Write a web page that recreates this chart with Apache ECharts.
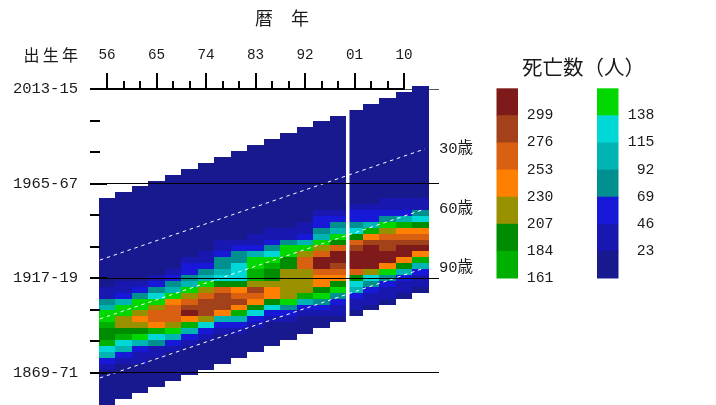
<!DOCTYPE html>
<html><head><meta charset="utf-8">
<style>html,body{margin:0;padding:0;background:#fff}#c{width:716px;height:405px}</style>
<script src="https://cdn.jsdelivr.net/npm/echarts@6/dist/echarts.min.js"></script>
</head><body><div id="c"></div>
<script>
const periods = ['56','59','62','65','68','71','74','77','80','83','86','89','92','95','98','01','04','07','10','13'];
const col56 = [12,12,12,12,12,12,12,12,12,12,12,12,12,12,12,35,35,80,104,150,150,172,195,195,172,126,104,58,35,12,12,12,12,12,12];
const col59 = [12,12,12,12,12,12,12,12,12,12,12,12,12,12,12,35,35,58,104,150,150,218,218,195,172,126,104,58,35,12,12,12,12,12,12];
const col62 = [12,12,12,12,12,12,12,12,12,12,12,12,12,12,12,12,35,58,80,150,150,218,242,218,195,150,104,58,35,35,12,12,12,12,12];
const col65 = [12,12,12,12,12,12,12,12,12,12,12,12,12,12,12,12,35,58,80,126,150,218,264,264,242,172,126,80,35,35,12,12,12,12,12];
const col68 = [12,12,12,12,12,12,12,12,12,12,12,12,12,12,12,12,35,58,80,104,150,242,264,264,264,218,150,104,58,35,12,12,12,12,12];
const col71 = [12,12,12,12,12,12,12,12,12,12,12,12,12,12,12,35,58,58,80,104,150,218,264,288,310,242,172,104,58,35,12,12,12,12,12];
const col74 = [12,12,12,12,12,12,12,12,12,12,12,12,12,12,12,35,35,58,80,104,150,218,264,288,288,288,218,126,58,35,12,12,12,12,12];
const col77 = [12,12,12,12,12,12,12,12,12,12,12,12,12,12,35,35,58,80,80,104,126,195,264,288,288,288,242,104,58,35,12,12,12,12,12];
const col80 = [12,12,12,12,12,12,12,12,12,12,12,12,12,12,12,35,58,80,80,126,126,126,195,242,264,288,242,172,104,58,35,12,12,12,12];
const col83 = [12,12,12,12,12,12,12,12,12,12,12,12,12,12,12,35,35,58,104,150,150,172,172,218,288,264,242,195,126,58,35,12,12,12,12];
const col86 = [12,12,12,12,12,12,12,12,12,12,12,12,12,12,12,35,35,58,80,126,150,172,195,195,218,242,242,195,126,58,35,12,12,12,12];
const col89 = [12,12,12,12,12,12,12,12,12,12,12,12,12,12,12,12,35,35,80,150,150,195,195,218,218,218,218,218,150,80,58,35,12,12,12];
const col92 = [12,12,12,12,12,12,12,12,12,12,12,12,12,12,12,12,35,35,58,104,150,218,264,264,218,218,218,218,172,104,58,35,12,12,12];
const col95 = [12,12,12,12,12,12,12,12,12,12,12,12,12,12,12,35,58,58,80,104,150,218,264,310,310,264,242,242,195,150,80,58,35,12,12];
const col98 = [12,12,12,12,12,12,12,12,12,12,12,12,12,12,12,12,35,58,80,104,150,195,264,310,310,288,264,242,195,150,80,58,35,35,12];
const col01 = [12,12,12,12,12,12,12,12,12,12,12,12,12,12,12,12,35,58,58,80,126,195,264,288,310,310,310,264,195,126,104,58,35,35,12];
const col04 = [12,12,12,12,12,12,12,12,12,12,12,12,12,12,12,12,12,35,58,58,104,172,242,288,310,310,310,310,218,126,80,58,35,35,12];
const col07 = [12,12,12,12,12,12,12,12,12,12,12,12,12,12,12,12,12,35,35,58,80,150,218,264,288,288,310,310,242,150,80,58,35,35,12];
const col10 = [12,12,12,12,12,12,12,12,12,12,12,12,12,12,12,12,12,12,35,35,58,104,172,242,264,288,310,310,242,195,104,58,35,35,12];
const col13 = [12,12,12,12,12,12,12,12,12,12,12,12,12,12,12,12,12,12,12,35,35,80,126,195,242,264,288,310,242,172,104,58,35,35,12];
const columns = [col56,col59,col62,col65,col68,col71,col74,col77,col80,col83,col86,col89,col92,col95,col98,col01,col04,col07,col10,col13];

const thresholds = [23,46,69,92,115,138,161,184,207,230,253,276,299];
const colors = ['#18188f','#1818b0','#1818d8','#009090','#00b4b4','#00d8d8','#00d800','#00b000','#008c00','#999000','#ff8000','#d96010','#a3421a','#7f1a1a'];

const birthTicks = [2014,1998,1982,1966,1950,1934,1918,1902,1886,1870];
const birthMajor = [1966,1918,1870];
const birthLabels = {2014:'2013-15',1966:'1965-67',1918:'1917-19',1870:'1869-71'};
const yearMajor = [1956,1965,1974,1983,1992,2001,2010];
const yearMinor = [1956,1959,1962,1965,1968,1971,1974,1977,1980,1983,1986,1989,1992,1995,1998,2001,2004,2007,2010];

const lineYears = [1954.7,2013.8];
const age30 = [1927.1,1983.5];
const age60 = [1897.2,1953.0];
const age90 = [1867.2,1923.1];
const censusBreakYear = 1999.77;
const breakSpan = [2014,1855];

const mono = '"Liberation Mono","DejaVu Sans Mono",monospace';
const cjk = '"Noto Sans CJK JP",sans-serif';
const textCol = '#1a1a1a';

const rowCount = 54;
const rowNames = Array.from({length: rowCount}, (_, i) => String(i));
const cells = [];
columns.forEach((col, c) => col.forEach((v, k) => cells.push([c, 19 - c + k, v])));

const pieces = colors.map((color, i) => {
  const p = {color};
  if (i > 0) p.gte = thresholds[i - 1];
  if (i < thresholds.length) p.lt = thresholds[i];
  return p;
});

function renderCell(params, api) {
  const c = api.coord([api.value(0), api.value(1)]);
  const s = api.size([1, 1]);
  const x0 = Math.round(c[0] - s[0] / 2), x1 = Math.round(c[0] + s[0] / 2);
  const y0 = Math.round(c[1] - s[1] / 2), y1 = Math.round(c[1] + s[1] / 2);
  return {type: 'rect', shape: {x: x0, y: y0, width: x1 - x0, height: y1 - y0}, style: {fill: api.visual('color')}};
}

function ageLine(name, ys) {
  return {
    type: 'line', xAxisIndex: 1, yAxisIndex: 1, z: 3, silent: true, symbol: 'none',
    data: lineYears.map((x, i) => [x, ys[i]]),
    lineStyle: {color: '#fff', width: 1, type: [3.5, 3.8]},
    endLabel: {show: true, formatter: name, distance: 14, color: textCol, fontSize: 15.5, fontFamily: mono + ',' + cjk}
  };
}

const chart = echarts.init(document.getElementById('c'), null, {renderer: 'canvas'});

const legendW = 21.5, cellH = 27.1;
const graphics = [];
function legendCell(x, y, color) {
  graphics.push({type: 'rect', shape: {x, y, width: legendW, height: cellH + 0.5}, style: {fill: color}});
}
function legendText(x, y, text) {
  graphics.push({type: 'text', x, y, style: {text, align: 'right', verticalAlign: 'middle', font: '14.8px ' + mono, fill: textCol}});
}
for (let i = 0; i < 7; i++) {
  legendCell(496.5, 88.3 + i * cellH, colors[13 - i]);
  legendText(553.5, 88.3 + (i + 1) * cellH, String(thresholds[12 - i]));
  legendCell(597, 88.3 + i * cellH, colors[6 - i]);
  if (i < 6) legendText(654.5, 88.3 + (i + 1) * cellH, String(thresholds[5 - i]));
}
function title(x, y, text, size, align) {
  graphics.push({type: 'text', x, y, style: {text, align: align || 'left', verticalAlign: 'middle', font: size + 'px ' + cjk, fill: textCol}});
}
title(255, 18, '暦　年', 18);
title(78, 55, '出\u2009生\u2009年', 16, 'right');
title(522, 67, '死亡数（人）', 20.5);

const topRect = {left: 107, top: 89, width: 297, height: 316};
chart.setOption({
  animation: false,
  backgroundColor: '#fff',
  grid: [
    {left: 98.5, top: 86, width: 330.5, height: 318.94},
    {left: 90, top: 86, width: 349, height: 318.94},
    topRect,
    topRect
  ],
  visualMap: {type: 'piecewise', show: false, seriesIndex: 0, dimension: 2, pieces},
  xAxis: [
    {type: 'category', gridIndex: 0, data: periods, show: false},
    {type: 'value', gridIndex: 1, min: 1952.909, max: 2016.364, show: false},
    {type: 'value', gridIndex: 2, min: 1956, max: 2010, position: 'top', z: 10,
      axisLine: {show: true, onZero: false, lineStyle: {color: '#000', width: 2}},
      axisTick: {show: true, length: 16, lineStyle: {color: '#000', width: 2}, customValues: yearMajor},
      axisLabel: {show: true, margin: 27, customValues: yearMajor, formatter: v => String(v).slice(2),
        color: textCol, fontSize: 14.3, fontFamily: mono, hideOverlap: false},
      splitLine: {show: false}},
    {type: 'value', gridIndex: 3, min: 1956, max: 2010, position: 'top', z: 10,
      axisLine: {show: false, onZero: false},
      axisTick: {show: true, length: 8, lineStyle: {color: '#000', width: 2}, customValues: yearMinor},
      axisLabel: {show: false}, splitLine: {show: false}}
  ],
  yAxis: [
    {type: 'category', gridIndex: 0, data: rowNames, inverse: true, show: false},
    {type: 'value', gridIndex: 1, min: 1853.5, max: 2015.5, position: 'left', z: 10,
      axisLine: {show: false},
      axisTick: {show: true, inside: true, length: 10, lineStyle: {color: '#000', width: 2}, customValues: birthTicks},
      axisLabel: {show: false}, splitLine: {show: false}},
    {type: 'value', gridIndex: 1, min: 1853.5, max: 2015.5, position: 'left', z: 10,
      axisLine: {show: false},
      axisTick: {show: true, inside: true, length: 17, lineStyle: {color: '#000', width: 2}, customValues: birthMajor},
      axisLabel: {show: true, margin: 12, customValues: Object.keys(birthLabels).map(Number),
        formatter: v => birthLabels[v], color: textCol, fontSize: 15.5, fontFamily: mono, hideOverlap: false},
      splitLine: {show: true, lineStyle: {color: '#000', width: 1}}},
    {type: 'value', gridIndex: 1, min: 1853.5, max: 2015.5, position: 'left', z: 1,
      axisLine: {show: false},
      axisTick: {show: true, inside: true, length: 17, lineStyle: {color: '#000', width: 2}, customValues: [2014]},
      axisLabel: {show: false},
      splitLine: {show: true, lineStyle: {color: '#555', width: 1}}},
    {type: 'value', gridIndex: 2, min: 0, max: 1, show: false},
    {type: 'value', gridIndex: 3, min: 0, max: 1, show: false}
  ],
  series: [
    {type: 'custom', xAxisIndex: 0, yAxisIndex: 0, data: cells, z: 2, silent: true, progressive: 0,
      renderItem: renderCell, encode: {x: 0, y: 1}, clip: false},
    ageLine('30歳', age30),
    ageLine('60歳', age60),
    ageLine('90歳', age90),
    {type: 'line', xAxisIndex: 1, yAxisIndex: 1, z: 4, silent: true, symbol: 'none',
      data: breakSpan.map(y => [censusBreakYear, y]),
      lineStyle: {color: '#fff', width: 3.5}}
  ],
  graphic: graphics
});
</script></body></html>
